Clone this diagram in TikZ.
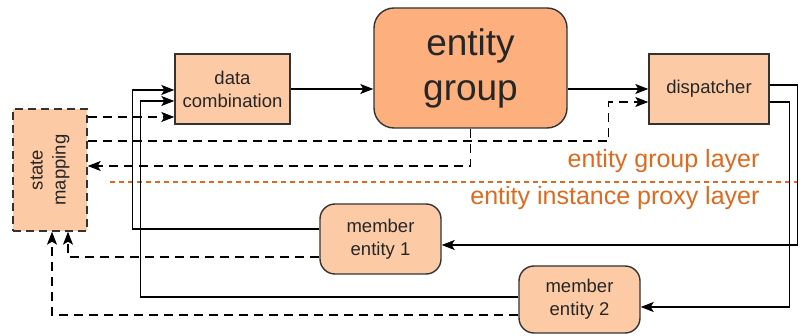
\documentclass[tikz,border=0pt]{standalone}
\usepackage{fontspec}
\setmainfont{Liberation Sans}
\usetikzlibrary{arrows.meta}
\definecolor{peach}{HTML}{FCCBA6}
\definecolor{apricot}{HTML}{FDB07E}
\definecolor{layerorange}{HTML}{DD6A1F}
\definecolor{boxline}{HTML}{333333}
\tikzset{
  boxtext/.style={font=\fontsize{18.5}{23}\selectfont, text=black!85, align=center},
  plainbox/.style={draw=boxline, line width=1.4pt, fill=peach, inner sep=0pt, boxtext},
  roundbox/.style={plainbox, rounded corners=15pt},
  flow/.style={line width=1.2pt, -{Stealth[length=13pt,width=10pt,inset=3pt]}},
  feedback/.style={flow, dash pattern=on 9pt off 6pt},
  layertext/.style={font=\fontsize{25}{30}\selectfont, text=layerorange}
}
\begin{document}
\begin{tikzpicture}[x=1pt, y=-1pt]
\useasboundingbox (0,0) rectangle (801,336);

% boxes
\node[plainbox, dash pattern=on 8pt off 5pt, minimum width=74pt, minimum height=122pt] (sm) at (50,170) {};
\node[boxtext, rotate=90] (smtext) at (sm.center) {state\\mapping};
\node[plainbox, minimum width=115pt, minimum height=70pt] (dc) at (232.5,89) {data\\combination};
\node[roundbox, fill=apricot, rounded corners=20pt, minimum width=193pt, minimum height=120pt,
      font=\fontsize{37}{45}\selectfont] (eg) at (470.5,68) {entity\\group};
\node[plainbox, minimum width=120pt, minimum height=70pt] (dp) at (709,89) {dispatcher};
\node[roundbox, minimum width=121pt, minimum height=70pt] (m1) at (380.5,239) {member\\entity 1};
\node[roundbox, minimum width=121pt, minimum height=67pt] (m2) at (579.5,299.5) {member\\entity 2};

% layer boundary
\draw[layerorange, line width=1.3pt, dash pattern=on 5pt off 4pt] (110,182) coordinate (lb1) -- (797,182) coordinate (lb2);
\node[layertext, anchor=base east] (glayer) at (763,168) {entity group layer};
\node[layertext, anchor=base east] (player) at (763,205) {entity instance proxy layer};

% main data flow
\draw[flow] (dc.east) -- (dc.east -| eg.west);
\draw[flow] (eg.east |- dp.west) -- (dp.west);
\draw[flow] ([yshift=4pt]dp.east) -- ++(28,0) |- ([yshift=-6pt]m1.east);
\draw[flow] ([yshift=-13pt]dp.east) -- ++(20,0) |- ([yshift=-7.5pt]m2.east);
\draw[flow] ([yshift=10pt]m1.west) -| ([xshift=-42pt,yshift=-1pt]dc.west) -- ([yshift=-1pt]dc.west);
\draw[flow] ([yshift=2.5pt]m2.west) -| ([xshift=-34pt,yshift=-12pt]dc.west) -- ([yshift=-12pt]dc.west);

% state mapping exchanges
\draw[feedback] ([yshift=-28pt]dc.west -| sm.east) -- ([yshift=-28pt]dc.west);
\draw[feedback] ([yshift=29pt]sm.east) -| ([xshift=-40pt,yshift=-13pt]dp.west) -- ([yshift=-13pt]dp.west);
\draw[feedback] (eg.south) |- ([yshift=4pt]sm.east);
\draw[feedback] ([yshift=-18pt]m1.west) -| ([xshift=18pt]sm.south);
\draw[feedback] ([yshift=-15.5pt]m2.west) -| ([xshift=2pt]sm.south);
\end{tikzpicture}
\end{document}
